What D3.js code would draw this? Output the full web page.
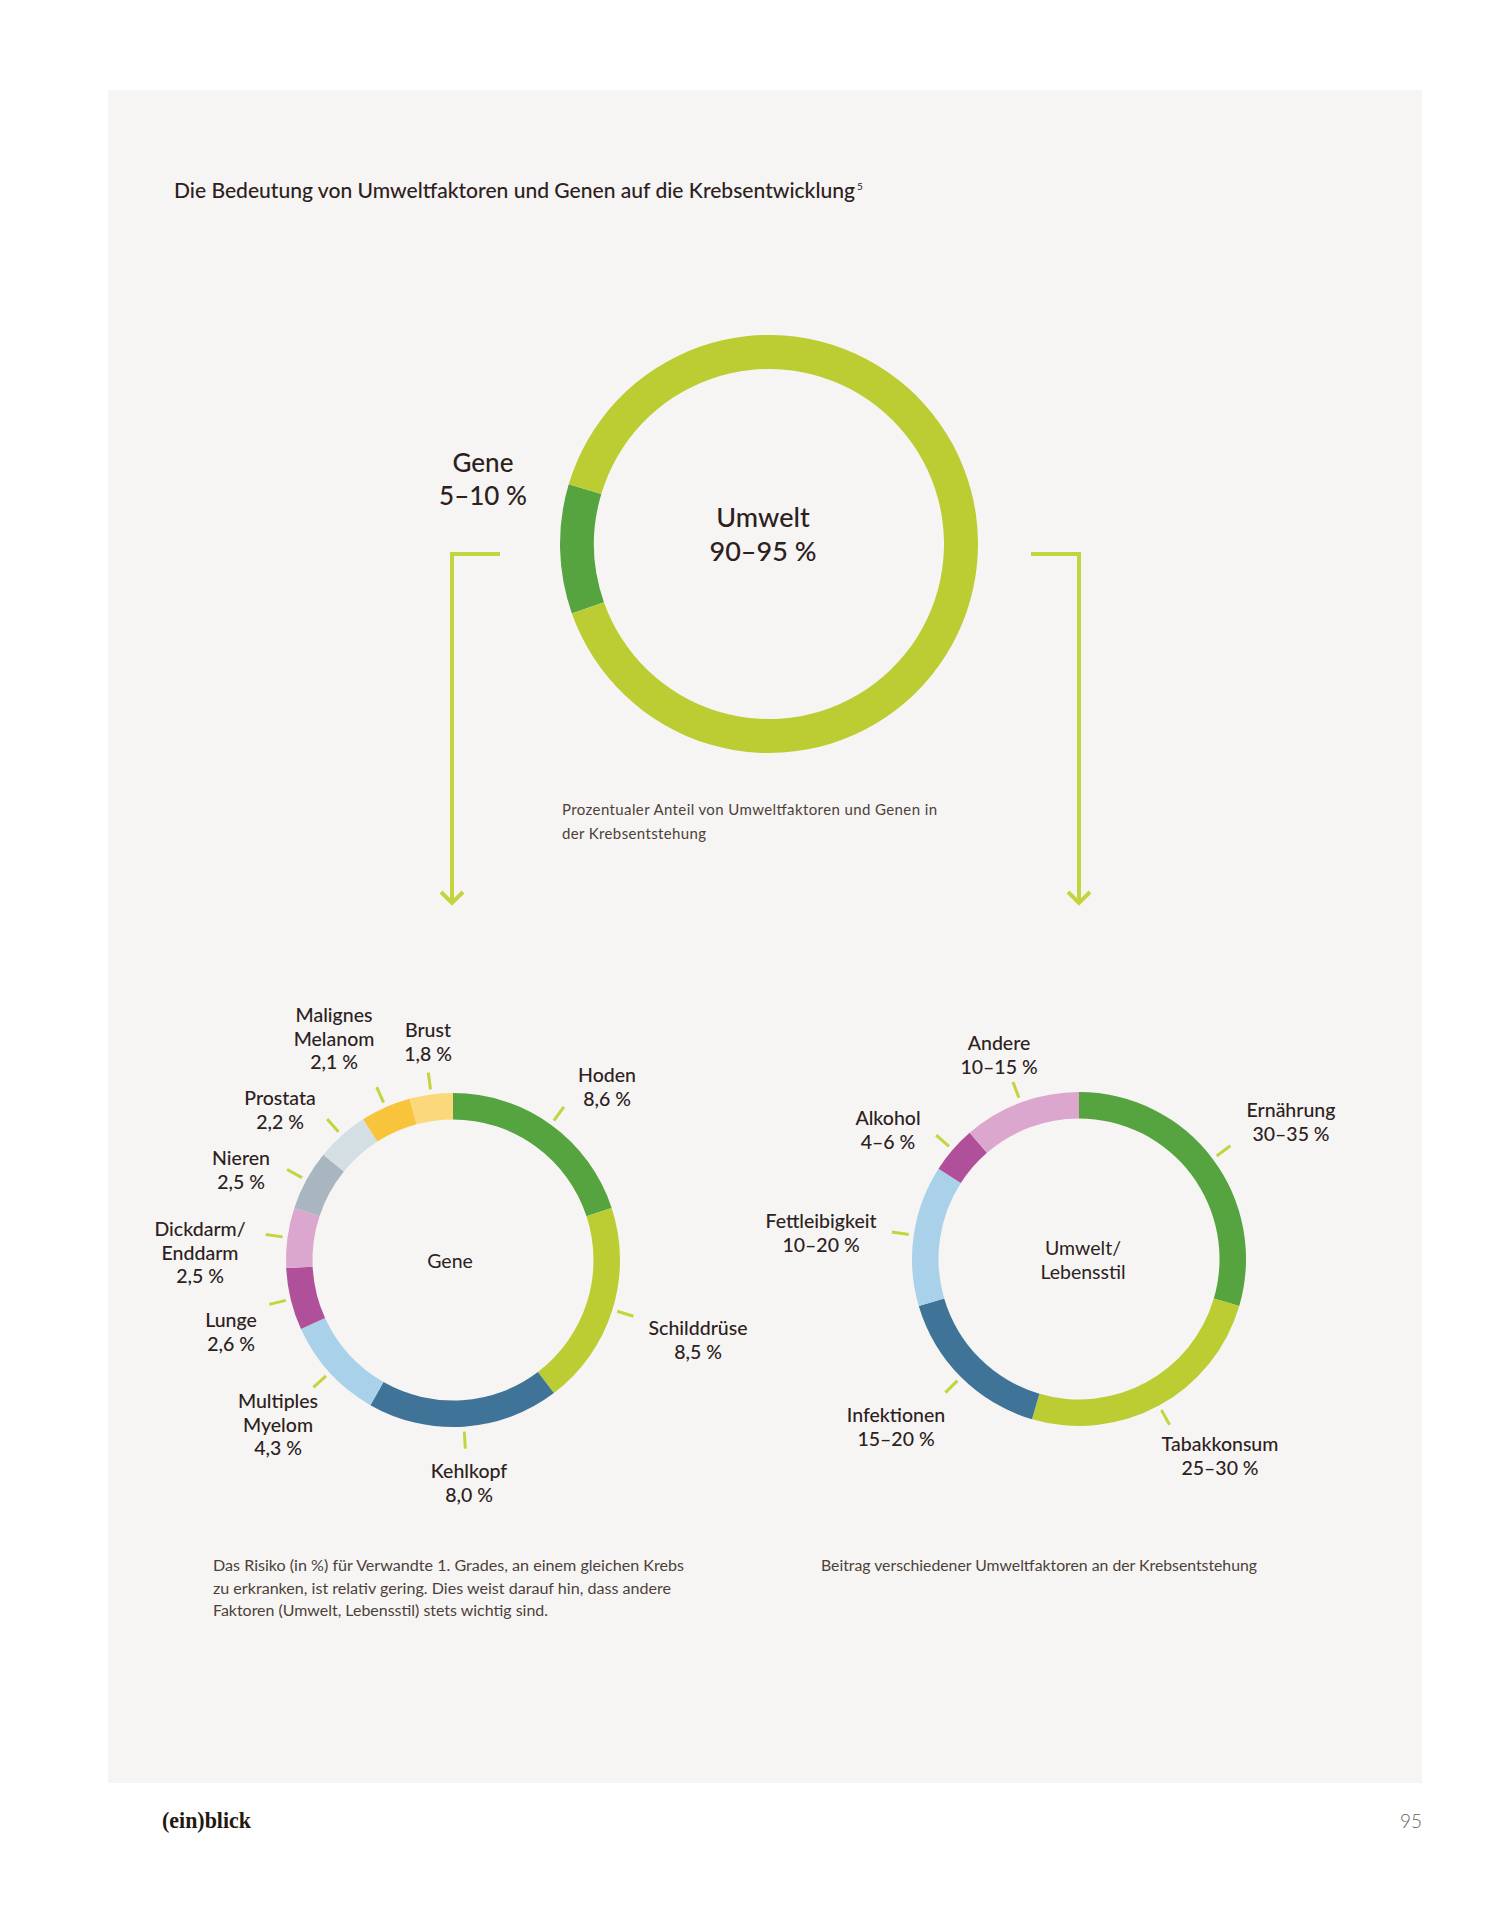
<!DOCTYPE html>
<html><head><meta charset="utf-8">
<script src="https://cdn.jsdelivr.net/npm/d3@7"></script>
<style>
body{margin:0;background:#ffffff}
svg{display:block}
</style>
</head><body>
<svg id="chart" width="1508" height="1920"></svg>
<script>
// ---------------- DATA ----------------
const titleText = "Die Bedeutung von Umweltfaktoren und Genen auf die Krebsentwicklung";
const titleNote = "5";

// Overview donut: Gene vs. Umwelt (share of circle)
const overviewCategories = ["Gene", "Umwelt"];
const overviewShares = [10, 90];
const overviewRanges = ["5–10 %", "90–95 %"];

// Gene donut: risk (in %) for first-degree relatives
const geneCategories = ["Hoden", "Schilddrüse", "Kehlkopf", "Multiples\nMyelom", "Lunge",
  "Dickdarm/\nEnddarm", "Nieren", "Prostata", "Malignes\nMelanom", "Brust"];
const geneValues = [8.6, 8.5, 8.0, 4.3, 2.6, 2.5, 2.5, 2.2, 2.1, 1.8];

// Umwelt/Lebensstil donut: ranges in %
const envCategories = ["Ernährung", "Tabakkonsum", "Infektionen", "Fettleibigkeit", "Alkohol", "Andere"];
const envLow  = [30, 25, 15, 10, 4, 10];
const envHigh = [35, 30, 20, 20, 6, 15];

const captionTop = ["Prozentualer Anteil von Umweltfaktoren und Genen in", "der Krebsentstehung"];
const captionGene = ["Das Risiko (in %) für Verwandte 1. Grades, an einem gleichen Krebs",
  "zu erkranken, ist relativ gering. Dies weist darauf hin, dass andere",
  "Faktoren (Umwelt, Lebensstil) stets wichtig sind."];
const captionEnv = ["Beitrag verschiedener Umweltfaktoren an der Krebsentstehung"];

// ---------------- STYLE / LAYOUT ----------------
const ink = "#2d211e";
const inkSoft = "#4d3f3a";
const tickLime = "#c4d43f";
const font = "Lato, 'Open Sans', sans-serif";
const geneColors = ["#55a43f", "#bccd33", "#3f7398", "#a9d2ea", "#b0509a", "#dba7cf",
  "#a9b6bf", "#d4dfe3", "#f8c43c", "#fbd97b"];
const envColors = ["#55a43f", "#bccd33", "#3f7398", "#a9d2ea", "#b0509a", "#dba7cf"];
const overviewColors = ["#55a43f", "#bccd33"];

// label anchor (centre x, first baseline) relative to donut centre
const geneLabelPos = [[154,-178],[245,75],[16,218],[-175,148],[-222,67],[-253,-24],[-212,-95],[-173,-155],[-119,-238],[-25,-223]];
const envLabelPos = [[212,-142],[141,192],[-183,163],[-258,-31],[-191,-134],[-80,-209]];

const deg = a => a * Math.PI / 180;
const svg = d3.select("#chart");
const fmt = v => d3.format(".1f")(v).replace(".", ",") + " %";

svg.append("rect").attr("width", 1508).attr("height", 1920).attr("fill", "#ffffff");
svg.append("rect").attr("x", 108).attr("y", 90).attr("width", 1314).attr("height", 1693).attr("fill", "#f6f5f3");

// title
svg.append("text").attr("x", 174).attr("y", 198).attr("font-family", font)
  .attr("font-size", 21).attr("font-weight", 500).attr("fill", ink)
  .attr("textLength", 681).attr("lengthAdjust", "spacingAndGlyphs").text(titleText);
svg.append("text").attr("x", 857).attr("y", 190).attr("font-family", font)
  .attr("font-size", 10).attr("fill", ink).text(titleNote);

// ---------------- overview donut ----------------
const topC = [769, 544];
const topG = svg.append("g").attr("transform", `translate(${topC})`);
const topPie = d3.pie().sort(null).startAngle(deg(250.6)).endAngle(deg(250.6) + 2 * Math.PI);
const topArc = d3.arc().innerRadius(175).outerRadius(209);
topG.selectAll("path").data(topPie(overviewShares)).join("path")
  .attr("d", topArc).attr("fill", (d, i) => overviewColors[i]);

function multiText(g, x, y, lines, size, lh, weight, fill) {
  const t = g.append("text").attr("font-family", font).attr("font-size", size)
    .attr("font-weight", weight).attr("fill", fill).attr("text-anchor", "middle");
  lines.forEach((l, i) => t.append("tspan").attr("x", x).attr("y", y + i * lh).text(l));
  return t;
}
multiText(svg, 483, 472, [overviewCategories[0], overviewRanges[0]], 26, 33, 500, ink);
multiText(svg, 763, 527, [overviewCategories[1], overviewRanges[1]], 27, 34, 500, ink);

// brackets with arrows
const br = svg.append("g").attr("fill", "none").attr("stroke", tickLime).attr("stroke-width", 4);
br.append("path").attr("d", "M500,554 H452 V902");
br.append("path").attr("d", "M441,892 L452,903 L463,892");
br.append("path").attr("d", "M1031,554 H1079 V902");
br.append("path").attr("d", "M1068,892 L1079,903 L1090,892");

// caption under top donut
captionTop.forEach((l, i) => {
  svg.append("text").attr("x", 562).attr("y", 815 + i * 24).attr("font-family", font)
    .attr("font-size", 15).attr("fill", inkSoft)
    .attr("textLength", i === 0 ? 375 : 144).attr("lengthAdjust", "spacing").text(l);
});

// ---------------- bottom donuts ----------------
function donut(center, values, colors, names, valueLabels, labelPos, centerLines) {
  const g = svg.append("g").attr("transform", `translate(${center})`);
  const pie = d3.pie().sort(null);
  const arcs = pie(values);
  const arc = d3.arc().innerRadius(140.5).outerRadius(167);
  g.selectAll("path.seg").data(arcs).join("path").attr("class", "seg")
    .attr("d", arc).attr("fill", (d, i) => colors[i]);
  g.selectAll("line.tick").data(arcs).join("line").attr("class", "tick")
    .each(function (d) {
      const a = (d.startAngle + d.endAngle) / 2;
      d3.select(this)
        .attr("x1", Math.sin(a) * 172).attr("y1", -Math.cos(a) * 172)
        .attr("x2", Math.sin(a) * 189).attr("y2", -Math.cos(a) * 189);
    })
    .attr("stroke", tickLime).attr("stroke-width", 3);
  arcs.forEach((d, i) => {
    const lines = names[i].split("\n").concat([valueLabels[i]]);
    multiText(g, labelPos[i][0], labelPos[i][1], lines, 19.5, 23.5, 500, ink);
  });
  multiText(g, centerLines.dx, centerLines.dy, centerLines.lines, 19.5, 24, 400, ink);
}

donut([453, 1260], geneValues, geneColors, geneCategories, geneValues.map(fmt), geneLabelPos,
  {dx: -3, dy: 8, lines: ["Gene"]});
donut([1079, 1259], envLow.map((l, i) => (l + envHigh[i]) / 2), envColors, envCategories,
  envLow.map((l, i) => `${l}–${envHigh[i]} %`), envLabelPos,
  {dx: 4, dy: -4, lines: ["Umwelt/", "Lebensstil"]});

// bottom captions
const capW = [471, 458, 335];
captionGene.forEach((l, i) => {
  svg.append("text").attr("x", 213).attr("y", 1571 + i * 22.5).attr("font-family", font)
    .attr("font-size", 15.5).attr("fill", inkSoft)
    .attr("textLength", capW[i]).attr("lengthAdjust", "spacingAndGlyphs").text(l);
});
svg.append("text").attr("x", 821).attr("y", 1571).attr("font-family", font)
  .attr("font-size", 15.5).attr("fill", inkSoft)
  .attr("textLength", 436).attr("lengthAdjust", "spacingAndGlyphs").text(captionEnv[0]);

// footer
svg.append("text").attr("x", 162).attr("y", 1828).attr("font-family", "'Liberation Serif', serif")
  .attr("font-weight", 700).attr("font-size", 23).attr("fill", "#24180f")
  .attr("textLength", 89).attr("lengthAdjust", "spacingAndGlyphs").text("(ein)blick");
svg.append("text").attr("x", 1422).attr("y", 1828).attr("text-anchor", "end")
  .attr("font-family", font).attr("font-weight", 300).attr("font-size", 19).attr("fill", "#6e625c").text("95");
</script>
</body></html>
